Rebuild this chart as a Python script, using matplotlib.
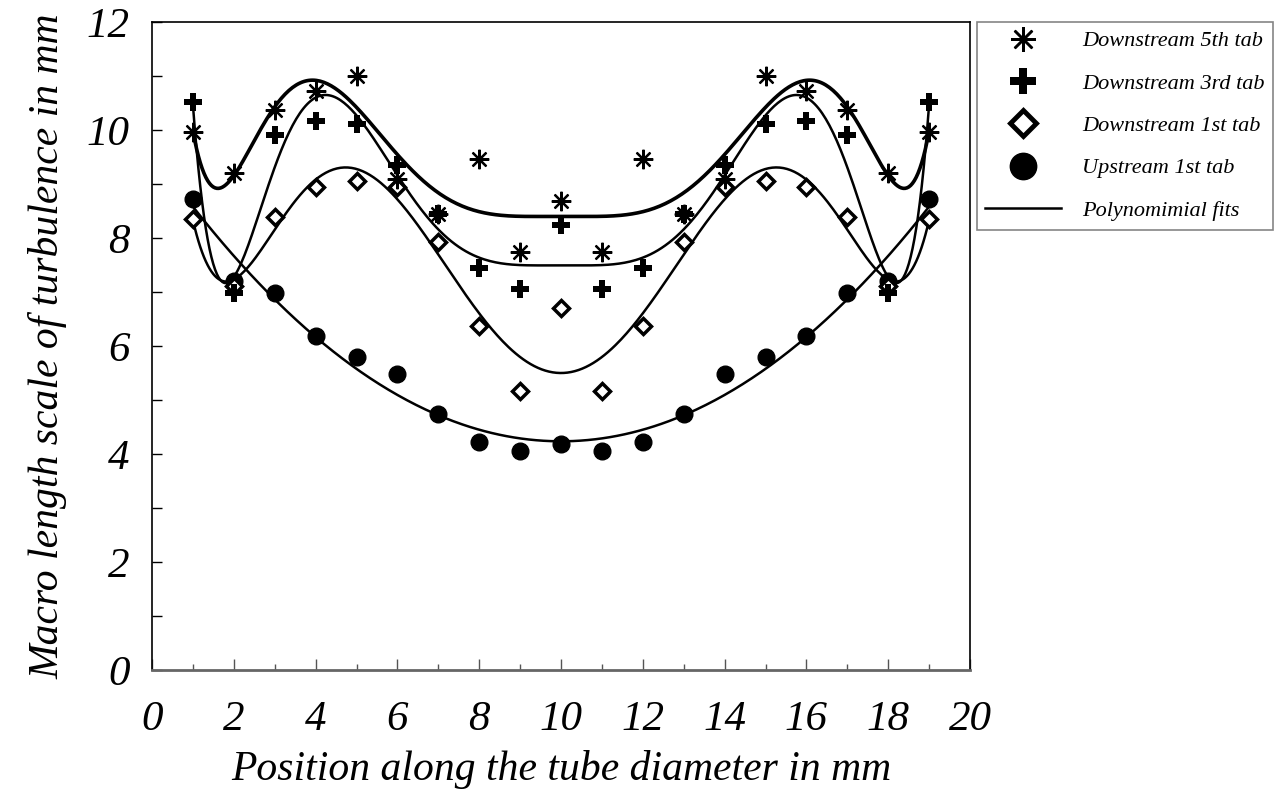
# macro length scale of turbulence across the tube diameter

import matplotlib
matplotlib.use("Agg")
import matplotlib.pyplot as plt
from matplotlib.lines import Line2D
from matplotlib.ticker import MultipleLocator
import numpy as np

plt.rcParams["font.family"] = ["Liberation Serif", "DejaVu Serif"]
plt.rcParams["font.style"] = "italic"

position = [1, 2, 3, 4, 5, 6, 7, 8, 9, 10, 11, 12, 13, 14, 15, 16, 17, 18, 19]

down_5th = [9.97, 9.21, 10.37, 10.73, 11.0, 9.10, 8.44, 9.46, 7.75, 8.69,
            7.75, 9.46, 8.44, 9.10, 11.0, 10.73, 10.37, 9.21, 9.97]
down_3rd = [10.52, 6.99, 9.91, 10.17, 10.11, 9.35, 8.45, 7.45, 7.06, 8.24,
            7.06, 7.45, 8.45, 9.35, 10.11, 10.17, 9.91, 6.99, 10.52]
down_1st = [8.35, 7.12, 8.39, 8.95, 9.06, 8.95, 7.92, 6.37, 5.17, 6.71,
            5.17, 6.37, 7.92, 8.95, 9.06, 8.95, 8.39, 7.12, 8.35]
up_1st = [8.72, 7.21, 6.99, 6.19, 5.80, 5.49, 4.75, 4.22, 4.06, 4.19,
          4.06, 4.22, 4.75, 5.49, 5.80, 6.19, 6.99, 7.21, 8.72]

x_ticks = [0, 2, 4, 6, 8, 10, 12, 14, 16, 18, 20]
y_ticks = [0, 2, 4, 6, 8, 10, 12]

fit_degree = {"5th": 8, "3rd": 8, "1st": 8, "up": 2}

fig = plt.figure(figsize=(12.82, 7.91), dpi=100)
ax = fig.add_axes([152 / 1282, 121 / 791, 818 / 1282, 648 / 791])

x = np.array(position, dtype=float)
x_fit = np.linspace(1, 19, 400)

series = [
    (down_5th, fit_degree["5th"], 2.6),
    (down_3rd, fit_degree["3rd"], 1.8),
    (down_1st, fit_degree["1st"], 1.8),
    (up_1st, fit_degree["up"], 1.8),
]
for values, deg, lw in series:
    coef = np.polyfit(x - 10, np.array(values), deg)
    ax.plot(x_fit, np.polyval(coef, x_fit - 10), color="black", lw=lw, zorder=2)

ax.plot(position, up_1st, "o", color="black", ms=12, zorder=3)
ax.plot(position, down_1st, "D", mfc="white", mec="black", mew=2.5, ms=8, zorder=4)
ax.plot(position, down_3rd, "P", color="black", ms=13, mew=0, zorder=5)
ax.plot(position, down_5th, marker=(8, 2, 0), ls="none", color="black",
        ms=14, mew=1.6, zorder=6)

ax.set_xlim(0, 20)
ax.set_ylim(0, 12)
ax.set_xticks(x_ticks, [str(v) for v in x_ticks], fontsize=31, fontstyle="italic")
ax.set_yticks(y_ticks, [str(v) for v in y_ticks], fontsize=31, fontstyle="italic")
ax.xaxis.set_minor_locator(MultipleLocator(1))
ax.yaxis.set_minor_locator(MultipleLocator(1))
ax.tick_params(axis="x", which="major", direction="in", length=8, width=1,
               pad=22, color="#555555")
ax.tick_params(axis="x", which="minor", direction="in", length=4, width=1,
               color="#555555")
ax.tick_params(axis="y", which="both", direction="in", length=7, width=1, pad=16)
for side in ["left", "right", "top"]:
    ax.spines[side].set_linewidth(1.2)
ax.spines["bottom"].set_color("#666666")
ax.spines["bottom"].set_linewidth(2)

ax.set_xlabel("Position along the tube diameter in mm", fontsize=30,
              fontstyle="italic", labelpad=8)
ax.set_ylabel("Macro length scale of turbulence in mm", fontsize=30,
              fontstyle="italic", labelpad=14)

handles = [
    Line2D([], [], marker=(8, 2, 0), ls="none", color="black", ms=18, mew=1.8),
    Line2D([], [], marker="P", ls="none", color="black", ms=19, mew=0),
    Line2D([], [], marker="D", ls="none", mfc="white", mec="black", mew=3.5, ms=13),
    Line2D([], [], marker="o", ls="none", color="black", ms=19),
    Line2D([], [], color="black", lw=1.8),
]
labels = ["Downstream 5th tab", "Downstream 3rd tab", "Downstream 1st tab",
          "Upstream 1st tab", "Polynomimial fits"]
leg = ax.legend(handles, labels, loc="upper left", bbox_to_anchor=(1.008, 1.0),
                fontsize=16, frameon=True, fancybox=False, handlelength=3.4,
                handletextpad=0.95, labelspacing=0.98, borderpad=0.4,
                borderaxespad=0)
for t in leg.get_texts():
    t.set_fontstyle("italic")
leg.get_frame().set_edgecolor("#666666")
leg.get_frame().set_linewidth(1.2)

fig.savefig("out.png", dpi=100)
